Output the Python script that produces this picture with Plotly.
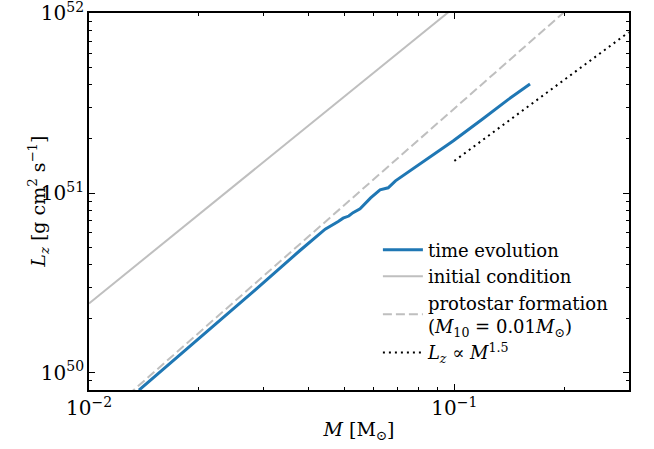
import plotly.graph_objects as go

# time evolution (M [Msun], Lz [g cm^2 s^-1])
evo_m = [0.0137, 0.0200, 0.0280, 0.0378, 0.0443, 0.0481, 0.0496, 0.0514, 0.0528, 0.0552,
         0.0590, 0.0626, 0.0645, 0.0659, 0.0690, 0.0742, 0.0850, 0.0992, 0.1200, 0.1400, 0.1611]
evo_l = [8.0e49, 1.55e50, 2.80e50, 4.79e50, 6.30e50, 6.95e50, 7.25e50, 7.45e50, 7.78e50, 8.18e50,
         9.40e50, 1.043e51, 1.06e51, 1.07e51, 1.17e51, 1.297e51, 1.58e51, 1.95e51, 2.60e51, 3.30e51, 4.04e51]

# initial condition
init_m = [0.01, 0.30]
init_l = [2.43e50, 6.6e52]

# protostar formation (M10 = 0.01 Msun)
proto_m = [0.01, 0.30]
proto_l = [4.85e49, 2.1e52]

# Lz ∝ M^1.5
pow_m = [0.10, 0.30]
pow_l = [1.51e51, 7.85e51]

FONT = "DejaVu Serif"

fig = go.Figure()
fig.add_trace(go.Scatter(x=evo_m, y=evo_l, mode="lines", name="time evolution",
                         line=dict(color="#1f77b4", width=3)))
fig.add_trace(go.Scatter(x=init_m, y=init_l, mode="lines", name="initial condition",
                         line=dict(color="#bfbfbf", width=2)))
fig.add_trace(go.Scatter(x=proto_m, y=proto_l, mode="lines",
                         name="protostar formation<br>(<i>M</i><sub>10</sub> = 0.01<i>M</i><sub>⊙</sub>)",
                         line=dict(color="#bfbfbf", width=2, dash="9px,4px")))
fig.add_trace(go.Scatter(x=pow_m, y=pow_l, mode="lines",
                         name="<i>L<sub>z</sub></i> ∝ <i>M</i><sup>1.5</sup>",
                         line=dict(color="black", width=2, dash="2px,4px")))

axis_common = dict(type="log", dtick=1, exponentformat="power", showgrid=False, zeroline=False,
                   ticks="inside", ticklen=6, tickwidth=1, tickcolor="black",
                   showline=True, linecolor="black", linewidth=1.5, mirror="allticks",
                   automargin=False, ticklabeloverflow="allow",
                   minor=dict(ticks="inside", ticklen=3.5, tickwidth=1, tickcolor="black", showgrid=False),
                   tickfont=dict(family=FONT, size=16, color="black"))

fig.update_layout(
    width=654, height=449,
    margin=dict(l=89, r=25, t=13, b=59),
    paper_bgcolor="white", plot_bgcolor="white",
    font=dict(family=FONT, size=16, color="black"),
    xaxis=dict(axis_common, range=[-2, -0.522],
               title=dict(text="<i>M</i> [M<sub>⊙</sub>]", font=dict(family=FONT, size=19), standoff=4)),
    yaxis=dict(axis_common, range=[49.904, 52.002]),
    legend=dict(x=0.535, y=0.42, xanchor="left", yanchor="top", bgcolor="rgba(0,0,0,0)",
                font=dict(family=FONT, size=18), tracegroupgap=0, itemwidth=40),
    showlegend=True,
    annotations=[dict(text="<i>L<sub>z</sub></i> [g cm<sup>2</sup> s<sup>−1</sup>]",
                      xref="paper", yref="paper", x=-0.094, y=0.5, xanchor="center", yanchor="middle",
                      textangle=-90, showarrow=False, font=dict(family=FONT, size=19, color="black"))],
)

fig.write_html("out.html")
